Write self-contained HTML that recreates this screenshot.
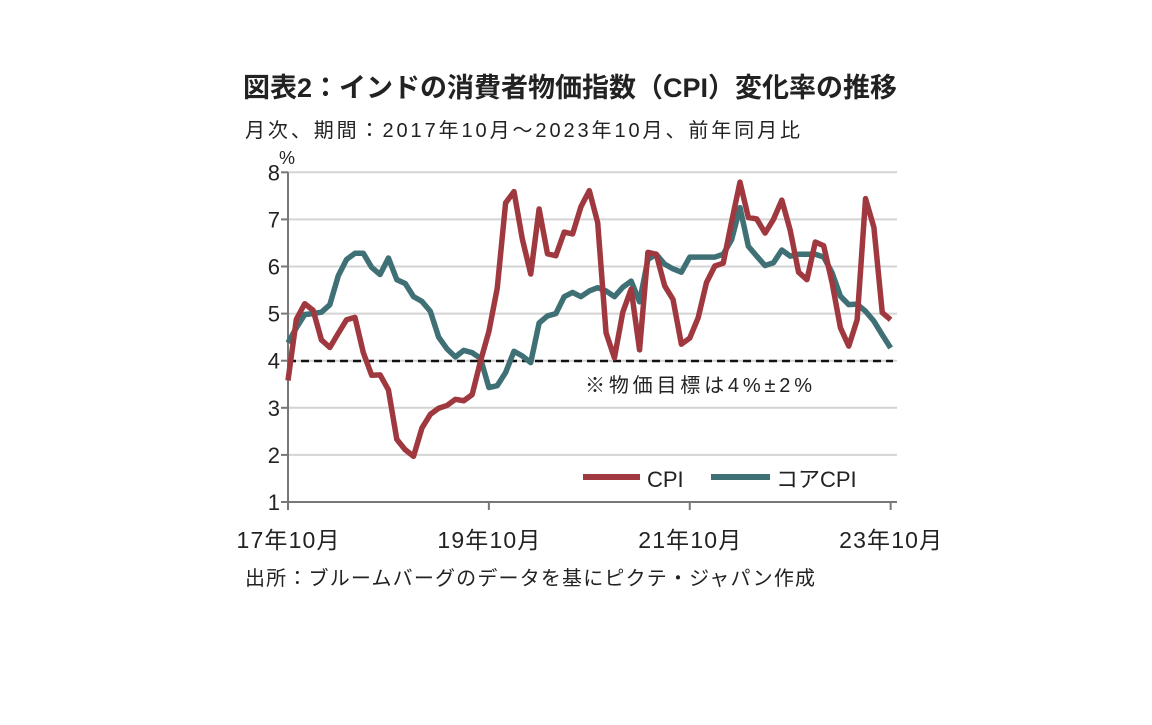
<!DOCTYPE html>
<html><head><meta charset="utf-8"><style>
body{margin:0;background:#fff;width:1152px;height:720px;overflow:hidden}
svg text{font-family:"Liberation Sans","Noto Sans CJK JP",sans-serif;fill:#222}
</style></head><body>
<svg id="chart" width="1152" height="720">
<text x="243" y="97" font-size="27" font-weight="bold" textLength="654">図表2：インドの消費者物価指数（CPI）変化率の推移</text>
<text x="245" y="137" font-size="20" textLength="555">月次、期間：2017年10月～2023年10月、前年同月比</text>
<text x="279" y="164" font-size="18">%</text>
<g id="grid"></g><g id="yticks"></g><g id="xticks"></g>
<line x1="288" y1="361" x2="893" y2="361" stroke="#111" stroke-width="2.5" stroke-dasharray="8,5"/>
<text x="585" y="392" font-size="20" textLength="227">※物価目標は4%±2%</text>
<g id="lines"></g>
<line x1="583" y1="477" x2="640" y2="477" stroke="#a0393f" stroke-width="6"/>
<text x="647" y="487" font-size="22">CPI</text>
<line x1="711" y1="477" x2="770" y2="477" stroke="#3f7075" stroke-width="6"/>
<text x="776" y="487" font-size="22">コアCPI</text>
<text x="245" y="585" font-size="20" textLength="570">出所：ブルームバーグのデータを基にピクテ・ジャパン作成</text>
</svg>
<script>
const yTicks=[1,2,3,4,5,6,7,8];
const xTickIdx=[0,24,48,72];
const xTickLabels=["17年10月","19年10月","21年10月","23年10月"];
const cpi=[3.58,4.88,5.21,5.07,4.44,4.28,4.58,4.87,4.92,4.17,3.69,3.70,3.38,2.33,2.11,1.97,2.57,2.86,2.99,3.05,3.18,3.15,3.28,3.99,4.62,5.54,7.35,7.59,6.58,5.84,7.22,6.27,6.23,6.73,6.69,7.27,7.61,6.93,4.59,4.06,5.03,5.52,4.23,6.30,6.26,5.59,5.30,4.35,4.48,4.91,5.66,6.01,6.07,6.95,7.79,7.04,7.01,6.71,7.00,7.41,6.77,5.88,5.72,6.52,6.44,5.66,4.70,4.31,4.87,7.44,6.83,5.02,4.87];
const core=[4.38,4.7,4.98,5.0,5.03,5.19,5.8,6.15,6.28,6.28,5.98,5.83,6.18,5.72,5.64,5.36,5.26,5.05,4.5,4.25,4.08,4.22,4.17,4.05,3.43,3.47,3.75,4.2,4.1,3.96,4.8,4.95,5.0,5.36,5.45,5.36,5.48,5.55,5.48,5.36,5.56,5.69,5.25,6.15,6.26,6.05,5.95,5.88,6.2,6.2,6.2,6.2,6.26,6.57,7.25,6.43,6.22,6.02,6.08,6.35,6.22,6.26,6.26,6.26,6.2,5.87,5.37,5.19,5.2,5.05,4.84,4.55,4.27];
const NS="http://www.w3.org/2000/svg";
const X=i=>288+i*8.37, Y=v=>502-(v-1)*47.1;
function mk(t,a,p){const e=document.createElementNS(NS,t);for(const k in a)e.setAttribute(k,a[k]);p.appendChild(e);return e;}
const g=document.getElementById('grid'),yt=document.getElementById('yticks'),xt=document.getElementById('xticks'),ln=document.getElementById('lines');
yTicks.forEach(v=>{
 if(v>1){const l=mk('line',{x1:288,x2:897,y1:Y(v),y2:Y(v),stroke:'#d4d4d4','stroke-width':2},g);
 
 }
 const t=mk('text',{x:280,y:Y(v)+8,'font-size':22,'text-anchor':'end'},yt);t.textContent=v;
 
 
 const k=mk('line',{x1:281,x2:288,y1:Y(v),y2:Y(v),stroke:'#777','stroke-width':2},yt);
 
 
});
const ya=mk('line',{x1:288,x2:288,y1:Y(8),y2:Y(1),stroke:'#777','stroke-width':2},yt);


const xa=mk('line',{x1:288,x2:897,y1:Y(1),y2:Y(1),stroke:'#777','stroke-width':2},xt);


xTickIdx.forEach((i,j)=>{
 const k=mk('line',{x1:X(i),x2:X(i),y1:Y(1),y2:Y(1)+8,stroke:'#777','stroke-width':2},xt);
 
 
 const t=mk('text',{x:X(i),y:548,'font-size':23,'text-anchor':'middle',textLength:103},xt);t.textContent=xTickLabels[j];
 
 
});
function line(d,c,name){
 const p=mk('polyline',{points:d.map((v,i)=>X(i)+','+Y(v)).join(' '),fill:'none',stroke:c,'stroke-width':5.5,'stroke-linejoin':'round'},ln);
 
 
}
line(core,'#3f7075','core-cpi-line');
line(cpi,'#a0393f','cpi-line');
</script>
</body></html>
